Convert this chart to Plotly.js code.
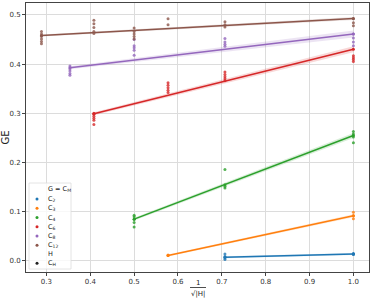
<!DOCTYPE html>
<html><head><meta charset="utf-8">
<script src="https://cdn.plot.ly/plotly-3.0.1.min.js"></script>
<style>html,body{margin:0;padding:0;background:#fff}#chart{width:374px;height:302px}</style>
</head><body><div id="chart"></div>
<script>
// ---- data ----
const seriesNames = ["C<sub>2</sub>","C<sub>3</sub>","C<sub>4</sub>","C<sub>6</sub>","C<sub>8</sub>","C<sub>12</sub>"];
const colors = ["#1f77b4","#ff7f0e","#2ca02c","#d62728","#9467bd","#8c564b"];
const r2 = 1/Math.sqrt(2), r3 = 1/Math.sqrt(3), r6 = 1/Math.sqrt(6), r8 = 1/Math.sqrt(8), r12 = 1/Math.sqrt(12);

const ptsX_C2 = [r2,r2,r2,r2,1,1,1];
const ptsY_C2 = [0.003,0.006,0.009,0.014,0.013,0.014,0.015];
const ptsX_C3 = [r3,r3,1,1,1];
const ptsY_C3 = [0.011,0.012,0.086,0.092,0.099];
const ptsX_C4 = [0.5,0.5,0.5,0.5,0.5,r2,r2,r2,r2,1,1,1,1];
const ptsY_C4 = [0.069,0.078,0.085,0.090,0.093,0.148,0.152,0.155,0.186,0.240,0.252,0.258,0.263];
const ptsX_C6 = [r6,r6,r6,r6,r6,r6,r3,r3,r3,r3,r3,r2,r2,r2,r2,r2,1,1,1,1];
const ptsY_C6 = [0.277,0.286,0.290,0.294,0.298,0.300,0.342,0.347,0.352,0.357,0.362,0.366,0.370,0.374,0.379,0.384,0.405,0.409,0.413,0.417];
const ptsX_C8 = [r8,r8,r8,r8,r8,0.5,0.5,0.5,0.5,0.5,r2,r2,r2,r2,1,1,1,1];
const ptsY_C8 = [0.377,0.381,0.386,0.390,0.396,0.418,0.428,0.433,0.437,0.450,0.436,0.440,0.445,0.452,0.437,0.445,0.453,0.461];
const ptsX_C12 = [r12,r12,r12,r12,r12,r12,r6,r6,r6,r6,r6,0.5,0.5,0.5,0.5,0.5,r3,r3,r2,r2,r2,1,1,1];
const ptsY_C12 = [0.441,0.446,0.451,0.456,0.461,0.466,0.462,0.466,0.474,0.482,0.489,0.451,0.456,0.461,0.466,0.473,0.480,0.492,0.475,0.480,0.486,0.478,0.484,0.492];

const lineX = [[r2,1],[r3,1],[0.5,1],[r6,1],[r8,1],[r12,1]];
const lineY = [[0.0075,0.0143],[0.011,0.092],[0.085,0.255],[0.299,0.430],[0.3925,0.461],[0.4578,0.4925]];
const bandHalf = [[0.002,0.002],[0.002,0.003],[0.003,0.005],[0.003,0.006],[0.003,0.007],[0.002,0.003]];

const xTicks = [0.3,0.4,0.5,0.6,0.7,0.8,0.9,1.0];
const yTicks = [0.0,0.1,0.2,0.3,0.4,0.5];
const legendLabels = ["C<sub>2</sub>","C<sub>3</sub>","C<sub>4</sub>","C<sub>6</sub>","C<sub>8</sub>","C<sub>12</sub>","H","C<sub>H</sub>"];
const legendColors = ["#1f77b4","#ff7f0e","#2ca02c","#d62728","#9467bd","#8c564b",null,"#222222"];

const ptsX = [ptsX_C2,ptsX_C3,ptsX_C4,ptsX_C6,ptsX_C8,ptsX_C12];
const ptsY = [ptsY_C2,ptsY_C3,ptsY_C4,ptsY_C6,ptsY_C8,ptsY_C12];

function rgba(hex,a){const n=parseInt(hex.slice(1),16);return `rgba(${n>>16},${(n>>8)&255},${n&255},${a})`;}

const traces = [];
for (let i=0;i<6;i++){
  const x=lineX[i], y=lineY[i], h=bandHalf[i];
  traces.push({x:x, y:[y[0]-h[0], y[1]-h[1]], mode:'lines', line:{width:0,color:colors[i]}, showlegend:false, hoverinfo:'skip'});
  traces.push({x:x, y:[y[0]+h[0], y[1]+h[1]], mode:'lines', line:{width:0,color:colors[i]}, fill:'tonexty', fillcolor:rgba(colors[i],0.18), showlegend:false, hoverinfo:'skip'});
}
for (let i=0;i<6;i++){
  traces.push({x:ptsX[i], y:ptsY[i], mode:'markers', marker:{size:3,color:colors[i],opacity:0.8}, showlegend:false, name:seriesNames[i]});
}
for (let i=0;i<6;i++){
  traces.push({x:lineX[i], y:lineY[i], mode:'lines+markers', marker:{size:3,color:colors[i]}, line:{width:1.5,color:colors[i]}, showlegend:false, name:seriesNames[i]});
}

// pixel -> paper helpers for the custom legend & axis label
const L=26, R=369, T=3, B=272;
const px = v => (v-L)/(R-L);
const py = v => (B-v)/(B-T);

const shapes = [];
const annotations = [];
// legend box
shapes.push({type:'rect', xref:'paper', yref:'paper', x0:px(29), x1:px(71), y0:py(183), y1:py(269), line:{color:'#dddddd',width:0.8}, fillcolor:'rgba(255,255,255,0.8)', layer:'above'});
annotations.push({xref:'paper',yref:'paper',x:px(46),y:py(189),text:'G = C<sub>M</sub>',showarrow:false,xanchor:'left',yanchor:'middle',font:{family:'DejaVu Sans',size:6.5,color:'#222'}});
const rowY=[199,208.3,217.5,226.8,236,245.2,254.4,263.3];
for (let k=0;k<legendLabels.length;k++){
  if (legendColors[k]) shapes.push({type:'circle', xref:'paper', yref:'paper', x0:px(35.5), x1:px(38.5), y0:py(rowY[k]+1.5), y1:py(rowY[k]-1.5), fillcolor:legendColors[k], line:{width:0}, layer:'above'});
  annotations.push({xref:'paper',yref:'paper',x:px(46),y:py(rowY[k]),text:legendLabels[k],showarrow:false,xanchor:'left',yanchor:'middle',font:{family:'DejaVu Sans',size:6.5,color:'#222'}});
}
// x axis label as fraction
annotations.push({xref:'paper',yref:'paper',x:px(198),y:py(283),text:'1',showarrow:false,xanchor:'center',yanchor:'middle',font:{family:'DejaVu Sans',size:7,color:'#222'}});
shapes.push({type:'line', xref:'paper', yref:'paper', x0:px(190), x1:px(206), y0:py(287.5), y1:py(287.5), line:{color:'#222',width:0.8}});
annotations.push({xref:'paper',yref:'paper',x:px(198),y:py(294),text:'√|H|',showarrow:false,xanchor:'center',yanchor:'middle',font:{family:'DejaVu Sans',size:7,color:'#222'}});

const layout = {
  width:374, height:302,
  margin:{l:L, r:374-R, t:T, b:302-B, pad:0},
  paper_bgcolor:'#fff', plot_bgcolor:'#fff',
  font:{family:'DejaVu Sans', size:7, color:'#333'},
  showlegend:false,
  xaxis:{range:[0.2534,1.0356], tickvals:xTicks, ticktext:xTicks.map(v=>v.toFixed(1)), showgrid:true, gridcolor:'#dcdcdc', gridwidth:1,
         zeroline:false, showline:true, mirror:true, linecolor:'#444', linewidth:1, ticks:'outside', ticklen:3, tickcolor:'#444', tickfont:{size:7,color:'#333'}},
  yaxis:{range:[-0.0224,0.524], tickvals:yTicks, ticktext:yTicks.map(v=>v.toFixed(1)), showgrid:true, gridcolor:'#dcdcdc', gridwidth:1,
         zeroline:false, showline:true, mirror:true, linecolor:'#444', linewidth:1, ticks:'outside', ticklen:3, tickcolor:'#444', tickfont:{size:7,color:'#333'},
         title:{text:'GE', font:{size:10,color:'#222'}, standoff:6}},
  shapes:shapes, annotations:annotations
};
Plotly.newPlot('chart', traces, layout, {displayModeBar:false, staticPlot:true});
</script></body></html>
